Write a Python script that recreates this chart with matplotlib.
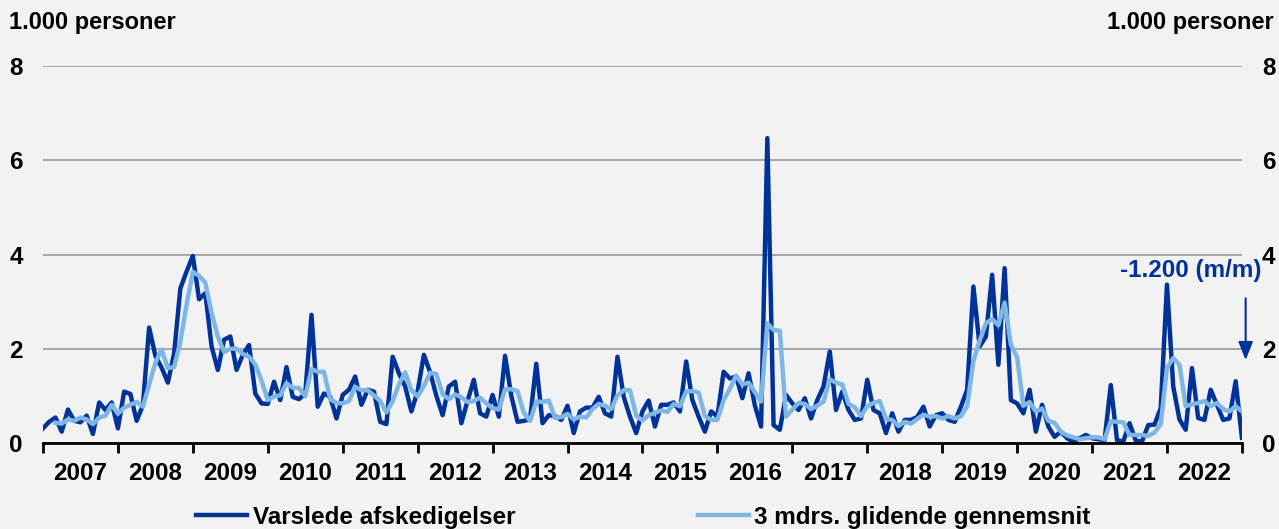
import numpy as np
import matplotlib.pyplot as plt

plt.rcParams["font.family"] = ["Liberation Sans", "DejaVu Sans"]
plt.rcParams["font.weight"] = "bold"

DARK = "#00339A"
LIGHT = "#7EB6E6"
BG = "#F2F2F2"

# varslede afskedigelser, 1.000 personer, jan 2007 - jan 2023
varsler = [
    0.31, 0.45, 0.54, 0.24, 0.71, 0.47, 0.44, 0.58, 0.19, 0.86, 0.70, 0.86,
    0.31, 1.09, 1.04, 0.47, 0.80, 2.45, 1.85, 1.60, 1.28, 1.90, 3.28, 3.64,
    3.97, 3.05, 3.18, 2.05, 1.55, 2.19, 2.26, 1.55, 1.87, 2.08, 1.05, 0.84,
    0.83, 1.30, 0.91, 1.61, 0.98, 0.93, 1.05, 2.72, 0.77, 1.05, 0.98, 0.52,
    1.02, 1.13, 1.41, 0.81, 1.13, 1.09, 0.45, 0.40, 1.83, 1.48, 1.20, 0.67,
    1.10, 1.87, 1.50, 1.00, 0.59, 1.20, 1.30, 0.42, 0.90, 1.34, 0.63, 0.56,
    1.02, 0.56, 1.85, 1.00, 0.45, 0.47, 0.50, 1.68, 0.42, 0.59, 0.57, 0.49,
    0.79, 0.21, 0.67, 0.75, 0.75, 0.98, 0.63, 0.56, 1.83, 0.98, 0.56, 0.21,
    0.67, 0.90, 0.35, 0.81, 0.81, 0.86, 0.67, 1.73, 0.91, 0.56, 0.24, 0.67,
    0.56, 1.51, 1.37, 1.41, 0.95, 1.48, 0.80, 0.35, 6.47, 0.38, 0.28, 1.02,
    0.84, 0.70, 0.95, 0.52, 0.91, 1.20, 1.94, 0.70, 1.09, 0.70, 0.49, 0.52,
    1.34, 0.70, 0.63, 0.21, 0.63, 0.24, 0.49, 0.49, 0.55, 0.77, 0.35, 0.59,
    0.63, 0.49, 0.45, 0.77, 1.13, 3.32, 2.05, 2.26, 3.57, 1.66, 3.71, 0.91,
    0.84, 0.63, 1.13, 0.24, 0.81, 0.35, 0.13, 0.24, 0.10, 0.03, 0.10, 0.17,
    0.10, 0.08, 0.06, 1.23, 0.06, 0.03, 0.42, 0.05, 0.03, 0.38, 0.39, 0.74,
    3.36, 1.20, 0.50, 0.28, 1.59, 0.53, 0.49, 1.13, 0.81, 0.49, 0.52, 1.31,
    0.11,
]

# 3 mdrs. glidende gennemsnit, fra mar 2007
glidende = [
    0.43, 0.41, 0.50, 0.47, 0.54, 0.50, 0.40, 0.54, 0.58, 0.81,
    0.62, 0.75, 0.81, 0.87, 0.77, 1.24, 1.70, 1.98, 1.59, 1.61, 2.15, 2.94,
    3.63, 3.55, 3.40, 2.76, 2.26, 1.93, 2.00, 2.00, 1.89, 1.83, 1.67, 1.32,
    0.91, 0.99, 1.01, 1.27, 1.17, 1.17, 0.99, 1.57, 1.51, 1.51, 0.93, 0.85,
    0.84, 0.89, 1.19, 1.12, 1.12, 1.01, 0.89, 0.65, 0.89, 1.24, 1.50, 1.12,
    0.99, 1.21, 1.49, 1.46, 1.03, 0.93, 1.03, 0.97, 0.87, 0.89, 0.96, 0.84,
    0.74, 0.71, 1.14, 1.14, 1.10, 0.64, 0.47, 0.88, 0.87, 0.90, 0.53, 0.55,
    0.62, 0.50, 0.56, 0.54, 0.72, 0.83, 0.79, 0.72, 1.01, 1.12, 1.12, 0.58,
    0.48, 0.59, 0.64, 0.69, 0.66, 0.83, 0.78, 1.09, 1.10, 1.07, 0.57, 0.49,
    0.49, 0.91, 1.15, 1.43, 1.24, 1.28, 1.08, 0.88, 2.54, 2.40, 2.38, 0.56,
    0.71, 0.85, 0.83, 0.72, 0.79, 0.88, 1.35, 1.28, 1.24, 0.83, 0.76, 0.57,
    0.78, 0.85, 0.89, 0.51, 0.49, 0.36, 0.45, 0.41, 0.51, 0.60, 0.56, 0.57,
    0.52, 0.57, 0.52, 0.57, 0.78, 1.74, 2.17, 2.54, 2.63, 2.50, 2.98, 2.09,
    1.82, 0.79, 0.87, 0.67, 0.73, 0.47, 0.43, 0.24, 0.16, 0.12, 0.08, 0.10,
    0.12, 0.12, 0.08, 0.46, 0.45, 0.44, 0.17, 0.17, 0.17, 0.15, 0.22, 0.40,
    1.59, 1.80, 1.66, 0.78, 0.82, 0.85, 0.89, 0.78, 0.85, 0.72, 0.67, 0.78,
    0.67,
]

years = list(range(2007, 2023))

x = 2007 + np.arange(len(varsler)) / 12
x_glid = x[len(varsler) - len(glidende):]

fig, ax = plt.subplots(figsize=(12.79, 5.29), dpi=100)
fig.patch.set_facecolor(BG)
ax.set_facecolor(BG)
fig.subplots_adjust(left=0.0336, right=0.971, bottom=0.1626, top=0.8752)

l1, = ax.plot(x, varsler, color=DARK, lw=3.2, label="Varslede afskedigelser", zorder=3)
l2, = ax.plot(x_glid, glidende, color=LIGHT, lw=3.2, label="3 mdrs. glidende gennemsnit", zorder=4)

ax.set_xlim(2007, 2023)
ax.set_ylim(0, 8)

ax.set_yticks([0, 2, 4, 6, 8])
ax.set_yticklabels(["0", "2", "4", "6", "8"])
ax.grid(axis="y", color="#A6A6A6", lw=1.4, zorder=1)
ax.tick_params(axis="y", length=0, pad=14.5, labelsize=17.5, labelright=True)

ax.set_xticks(np.arange(2007, 2024))
ax.set_xticklabels([])
ax.set_xticks(np.array(years) + 0.5, minor=True)
ax.set_xticklabels([str(y) for y in years], minor=True)
ax.tick_params(axis="x", which="major", length=7, width=2, color="black", direction="out")
ax.tick_params(axis="x", which="minor", length=0, pad=14, labelsize=17.5)

for side in ["top", "left", "right"]:
    ax.spines[side].set_visible(False)
ax.spines["bottom"].set_linewidth(2)
ax.spines["bottom"].set_zorder(5)

fig.text(9 / 1279, 1 - 22 / 529, "1.000 personer", ha="left", va="center", fontsize=17)
fig.text(1274 / 1279, 1 - 22 / 529, "1.000 personer", ha="right", va="center", fontsize=17)

# ændring i seneste måned
change = (varsler[-1] - varsler[-2]) * 1000
label = f"{change:,.0f}".replace(",", ".") + " (m/m)"
ax.text(2022.32, 3.65, label, ha="center", va="center", color=DARK, fontsize=17.5)
ax.annotate("", xy=(2023.05, 1.76), xytext=(2023.05, 3.07),
            arrowprops=dict(arrowstyle="-|>,head_length=0.55,head_width=0.22",
                            color=DARK, lw=1.5, mutation_scale=20,
                            shrinkA=0, shrinkB=0),
            annotation_clip=False)

fig.legend(handles=[l1, l2], loc="center", bbox_to_anchor=(0.503, 0.022), ncol=2,
           frameon=False, handlelength=2.1, handletextpad=0.22, columnspacing=7.5,
           prop=dict(size=17.5, weight="bold"))

fig.savefig("out.png", dpi=100, facecolor=fig.get_facecolor())
